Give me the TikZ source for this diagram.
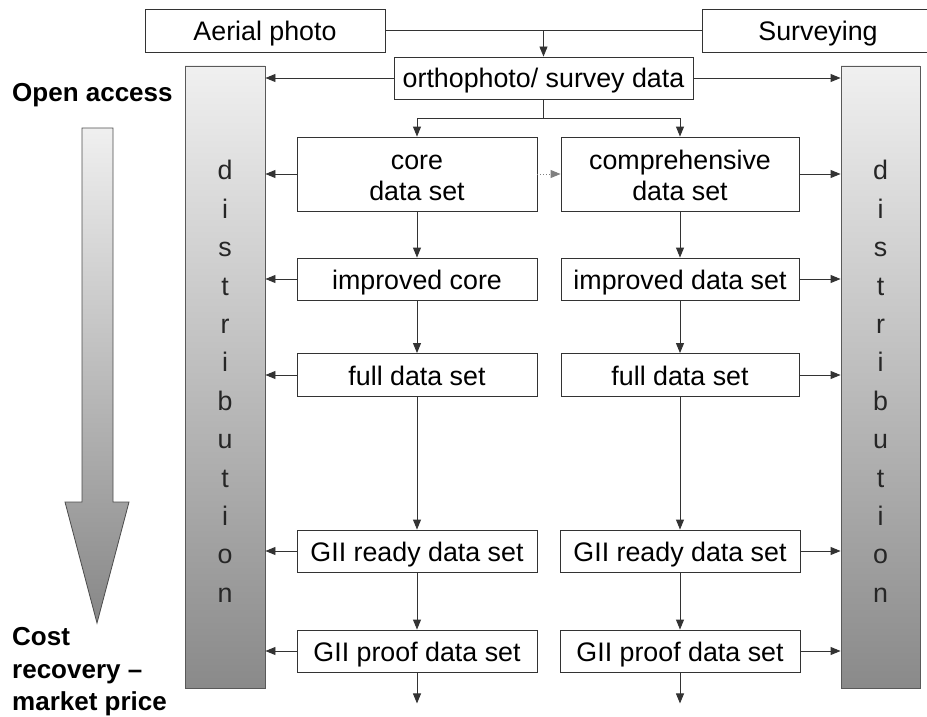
\documentclass[tikz,border=0pt]{standalone}
\usepackage{fontspec}
\setmainfont{Liberation Sans}
\usetikzlibrary{arrows.meta,calc}

\newcommand{\firstline}[1]{\rule{0pt}{#1}}

\tikzset{
  box/.style={draw=black!80, line width=0.9pt, fill=white, inner sep=0pt, align=center,
    minimum width=240pt, minimum height=42pt, text height=20pt, text depth=0pt,
    font=\fontsize{26.8}{31}\selectfont},
  twoline/.style={box, text height={}, text depth={}, minimum height=74pt},
  distbar/.style={draw=black!65, line width=0.9pt, top color=black!6, bottom color=black!46,
    minimum width=80pt, minimum height=622pt, inner sep=0pt, align=center,
    text=black!85, font=\fontsize{26.8}{38.4}\selectfont},
  conn/.style={draw=black!80, line width=0.9pt},
  arr/.style={conn, -{Triangle[length=10pt,width=8pt]}},
  lbl/.style={font=\fontsize{26}{32.5}\selectfont\bfseries, align=left, inner sep=0pt, anchor=west},
}

\begin{document}
\begin{tikzpicture}[x=1pt,y=-1pt]
      \useasboundingbox (0,0) rectangle (927,717);
%
      \shade[top color=black!6, bottom color=black!47, draw=black!70, line width=0.8pt]
        (82,128) -- (113,128) -- (113,502) -- (129,502) -- (97,623) -- (65,502) -- (82,502) -- cycle;
      \node[lbl] (open) at (12,95) {Open access};
      \node[lbl] (cost) at (12,672) {Cost\\recovery --\\market price};
%
      \node[distbar] (distL) at (225,377) {\firstline{28pt}d\\i\\s\\t\\r\\i\\b\\u\\t\\i\\o\\n};
      \node[distbar, minimum width=79pt] (distR) at (880.5,377) {\firstline{28pt}d\\i\\s\\t\\r\\i\\b\\u\\t\\i\\o\\n};
%
      \node[box, minimum height=43pt] (aerial) at (265,30.5) {Aerial photo};
      \node[box, minimum width=232pt, minimum height=43pt] (survey) at (818,30.5) {Surveying};
      \node[box, minimum width=299pt] (ortho) at (543.5,78) {orthophoto/ survey data};
%
      \node[twoline] (core) at (417,174) {\firstline{22pt}core\\data set};
      \node[twoline, minimum width=238pt] (comp) at (680,174) {\firstline{22pt}comprehensive\\data set};
      \node[box] (impcore) at (417,279) {improved core};
      \node[box, minimum width=238pt] (impdata) at (680,279) {improved data set};
      \node[box, minimum height=43pt] (fullL) at (417,375) {full data set};
      \node[box, minimum width=238pt, minimum height=43pt] (fullR) at (680,375) {full data set};
      \node[box] (readyL) at (417,551) {GII ready data set};
      \node[box] (readyR) at (680,551) {GII ready data set};
      \node[box] (proofL) at (417,651) {GII proof data set};
      \node[box] (proofR) at (680,651) {GII proof data set};
%
      \coordinate (split) at ($(ortho.south)+(0,19)$);
      \coordinate (endL) at ($(proofL.south)+(0,31)$);
      \coordinate (endR) at ($(proofR.south)+(0,31)$);
%
      \draw[conn] (aerial) -- (survey);
      \draw[arr] (aerial.east -| ortho.north) -- (ortho.north);
      \draw[arr] (ortho.west) -- (ortho.west -| distL.east);
      \draw[arr] (ortho.east) -- (ortho.east -| distR.west);
      \draw[arr] (ortho.south) -- (split) -| (core.north);
      \draw[arr] (split) -| (comp.north);
      \draw[arr, draw=black!50, dotted] (core) -- (comp);
%
      \draw[arr] (core) -- (impcore);
      \draw[arr] (impcore) -- (fullL);
      \draw[arr] (fullL) -- (readyL);
      \draw[arr] (readyL) -- (proofL);
      \draw[arr] (proofL) -- (endL);
      \draw[arr] (comp) -- (impdata);
      \draw[arr] (impdata) -- (fullR);
      \draw[arr] (fullR) -- (readyR);
      \draw[arr] (readyR) -- (proofR);
      \draw[arr] (proofR) -- (endR);
%
      \draw[arr] (core.west) -- (core.west -| distL.east);
      \draw[arr] (impcore.west) -- (impcore.west -| distL.east);
      \draw[arr] (fullL.west) -- (fullL.west -| distL.east);
      \draw[arr] (readyL.west) -- (readyL.west -| distL.east);
      \draw[arr] (proofL.west) -- (proofL.west -| distL.east);
      \draw[arr] (comp.east) -- (comp.east -| distR.west);
      \draw[arr] (impdata.east) -- (impdata.east -| distR.west);
      \draw[arr] (fullR.east) -- (fullR.east -| distR.west);
      \draw[arr] (readyR.east) -- (readyR.east -| distR.west);
      \draw[arr] (proofR.east) -- (proofR.east -| distR.west);
%
      \end{tikzpicture}
\end{document}
